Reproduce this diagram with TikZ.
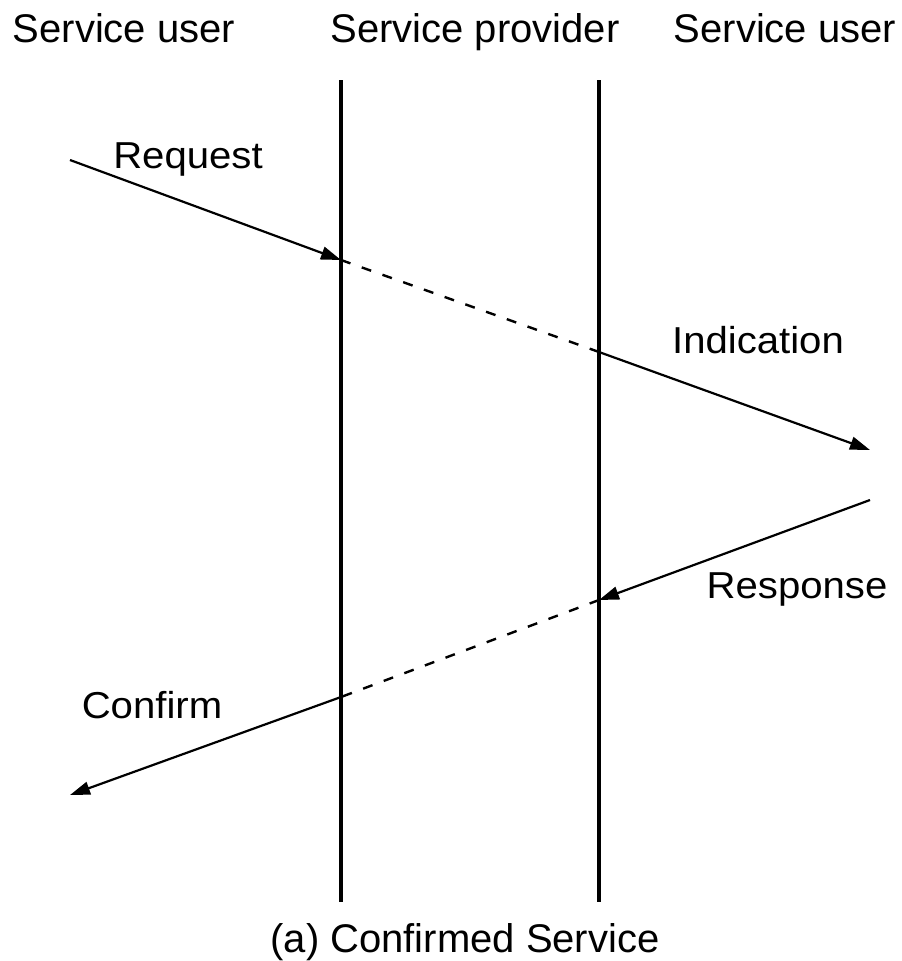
\documentclass[tikz,border=0pt]{standalone}
\usepackage{fontspec}
\setmainfont{Liberation Sans}
\usetikzlibrary{arrows.meta}
\newcommand{\widelbl}[1]{\scalebox{1.07}[1]{#1}}
\begin{document}
\begin{tikzpicture}[x=1pt,y=-1pt,
  lbl/.style={inner sep=0pt, anchor=base, font=\fontsize{40}{48}\selectfont},
  msglbl/.style={inner sep=0pt, anchor=base, font=\fontsize{37.5}{45}\selectfont},
  lifeline/.style={line width=4.2pt},
  msg/.style={line width=2.2pt, -{Triangle[length=20pt,width=13pt]}},
  dash line/.style={line width=2.4pt, dash pattern=on 10pt off 12pt}]
\useasboundingbox (0,0) rectangle (902,961);
% headings
\node[lbl] (h1) at (124,42) {Service user};
\node[lbl] (h2) at (475,42) {Service provider};
\node[lbl] (h3) at (785,42) {Service user};
% lifelines
\coordinate (pTop) at (341,80);
\coordinate (pBot) at (341,902);
\coordinate (qTop) at (599,80);
\coordinate (qBot) at (599,902);
\draw[lifeline] (pTop) -- (pBot);
\draw[lifeline] (qTop) -- (qBot);
% request / indication
\coordinate (r0) at (70,160);
\coordinate (r1) at (341,260);
\coordinate (r2) at (599,352);
\coordinate (r3) at (870,450);
\draw[msg] (r0) -- (r1);
\draw[dash line] (r1) -- (r2);
\draw[msg] (r2) -- (r3);
% response / confirm
\coordinate (s0) at (870,500);
\coordinate (s1) at (599,600);
\coordinate (s2) at (341,697);
\coordinate (s3) at (70,795);
\draw[msg] (s0) -- (s1);
\draw[dash line] (s1) -- (s2);
\draw[msg] (s2) -- (s3);
% labels
\node[msglbl] (lreq) at (188,168) {\widelbl{Request}};
\node[msglbl] (lind) at (758,353) {\widelbl{Indication}};
\node[msglbl] (lres) at (797,598) {\widelbl{Response}};
\node[msglbl] (lcon) at (152,718) {\widelbl{Confirm}};
\node[lbl] (cap) at (465,952) {(a) Confirmed Service};
\end{tikzpicture}
\end{document}
